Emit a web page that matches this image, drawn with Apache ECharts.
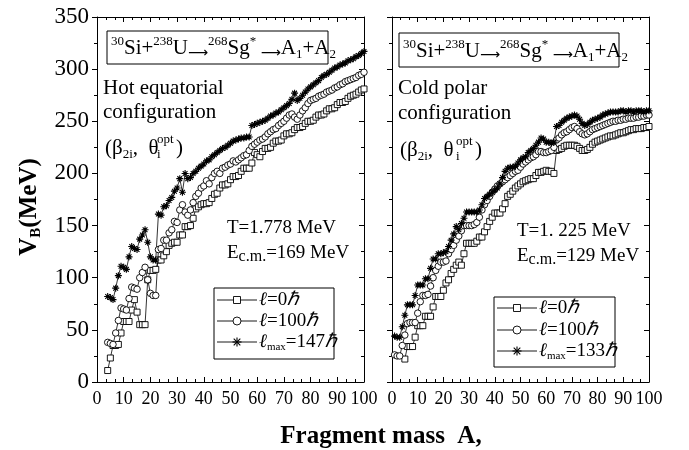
<!DOCTYPE html>
<html>
<head>
<meta charset="utf-8">
<script src="https://cdn.jsdelivr.net/npm/echarts@6/dist/echarts.min.js"></script>
<style>
  html, body { margin: 0; padding: 0; background: #fff; }
  #chart { width: 689px; height: 450px; }
</style>
</head>
<body>
<div id="chart"></div>
<script>
// Barrier heights V_B (MeV) versus fragment mass A for 30Si+238U -> 268Sg*

// Hot equatorial configuration, T = 1.778 MeV (A = 4 ... 100)
const hotStartMass = 4;
const hotL0 = [
  11, 23, 35, 35, 36, 47, 58, 58, 58, 69,
  79, 67, 55, 55, 55, 98, 107, 107, 108, 117,
  117, 121, 125, 131, 133, 134, 134, 141, 141, 149,
  149, 150, 157, 166, 168, 170, 171, 171, 172, 176,
  180, 181, 186, 189, 189, 190, 194, 197, 197, 198,
  202, 205, 205, 205, 210, 220, 218, 216, 221, 224,
  224, 225, 229, 231, 231, 232, 236, 238, 238, 239,
  242, 244, 244, 245, 248, 250, 250, 251, 254, 256,
  256, 257, 260, 262, 262, 263, 266, 268, 268, 269,
  272, 274, 275, 276, 278, 280, 281
];
const hotL100 = [
  38, 37, 36, 47, 59, 71, 70, 69, 80, 91,
  90, 89, 100, 105, 110, 98, 85, 83, 83, 127,
  128, 136, 136, 143, 146, 154, 153, 165, 170, 163,
  160, 165, 172, 178, 181, 186, 188, 193, 190, 196,
  200, 202, 200, 205, 206, 208, 209, 212, 211, 213,
  215, 217, 218, 222, 226, 228, 230, 232, 233, 235,
  238, 240, 242, 243, 246, 248, 250, 253, 256, 257,
  254, 252, 256, 260, 263, 267, 270, 271, 272, 274,
  275, 276, 278, 279, 280, 282, 283, 285, 286, 288,
  289, 290, 291, 292, 294, 295, 297
];
const hotLmax = [
  82, 81, 79, 90, 102, 111, 110, 108, 120, 130,
  128, 127, 137, 141, 146, 134, 120, 117, 117, 161,
  160, 168, 169, 174, 177, 183, 186, 195, 182, 200,
  195, 196, 200, 202, 205, 207, 209, 212, 213, 216,
  218, 220, 222, 224, 225, 227, 229, 231, 232, 233,
  234, 234, 235, 235, 246, 247, 248, 249, 250, 251,
  253, 255, 256, 258, 259, 261, 263, 265, 267, 271,
  277, 270, 272, 275, 278, 281, 283, 285, 287, 289,
  292, 294, 295, 297, 299, 301, 302, 304, 305, 306,
  308, 309, 310, 312, 313, 315, 317
];

// Cold polar configuration, T = 1.225 MeV
const coldStartMass = 1;      // l = 100 and l_max curves
const coldL0StartMass = 5;    // l = 0 curve
const coldL0 = [
  22, 34, 34, 34, 43, 54, 54, 54, 63, 63,
  63, 72, 82, 82, 82, 88, 95, 98, 104, 108,
  112, 115, 112, 123, 133, 133, 133, 133, 135, 139,
  139, 144, 149, 154, 158, 162, 162, 162, 166, 171,
  178, 180, 183, 186, 188, 190, 192, 193, 194, 195,
  195, 198, 201, 201, 202, 203, 202, 202, 200, 222,
  223, 224, 226, 227, 227, 227, 227, 226, 224, 222,
  222, 223, 225, 228, 230, 231, 232, 233, 234, 235,
  236, 236, 237, 238, 239, 239, 240, 241, 242, 242,
  243, 243, 243, 244, 244, 245
];
const coldL100 = [
  26, 25, 25, 35, 45, 56, 57, 57, 57, 66,
  77, 83, 83, 84, 92, 100, 107, 111, 115, 115,
  116, 123, 127, 131, 136, 140, 145, 150, 150, 150,
  150, 151, 153, 158, 165, 170, 174, 178, 182, 185,
  188, 190, 192, 194, 196, 198, 200, 202, 203, 206,
  209, 211, 213, 215, 216, 218, 221, 221, 220, 220,
  221, 222, 225, 232, 234, 237, 239, 240, 242, 244,
  245, 243, 240, 238, 237, 238, 240, 242, 243, 244,
  245, 246, 247, 248, 249, 250, 250, 251, 251, 252,
  252, 253, 253, 253, 254, 254, 255, 255, 256, 256
];
const coldLmax = [
  44, 43, 43, 53, 64, 74, 74, 74, 83, 93,
  93, 93, 99, 99, 109, 118, 118, 123, 123, 124,
  125, 130, 136, 142, 149, 146, 152, 157, 163, 163,
  163, 163, 163, 165, 170, 176, 178, 180, 182, 184,
  186, 190, 196, 202, 205, 206, 206, 207, 210, 213,
  215, 216, 220, 222, 224, 227, 230, 234, 233, 230,
  230, 229, 230, 245, 246, 249, 251, 253, 254, 255,
  256, 255, 252, 248, 246, 247, 249, 251, 252, 253,
  254, 256, 257, 258, 259, 259, 259, 259, 260, 260,
  259, 260, 260, 259, 260, 260, 260, 259, 260, 260
];

const xTicks = { min: 0, max: 100, interval: 10 };
const yTicks = { min: 0, max: 350, interval: 50 };

const hotNames = ['ℓ=0ℏ', 'ℓ=100ℏ', 'ℓmax=147ℏ'];
const coldNames = ['ℓ=0ℏ', 'ℓ=100ℏ', 'ℓmax=133ℏ'];

function pairs(start, values) {
  return values.map((v, i) => [start + i, v]);
}

const SERIF = 'Liberation Serif';
const STAR = 'path://M5 0L5 10M0 5L10 5M1.6 1.6L8.4 8.4M1.6 8.4L8.4 1.6';

function xAxis(gridIndex, position, showLabels) {
  return {
    type: 'value', gridIndex, position,
    min: xTicks.min, max: xTicks.max, interval: xTicks.interval,
    axisLine: { show: true, onZero: false, lineStyle: { color: '#000', width: 1 } },
    axisTick: { show: true, inside: true, length: 5, lineStyle: { color: '#000', width: 1 } },
    minorTick: { show: true, splitNumber: 3, length: 3, lineStyle: { color: '#000', width: 1 } },
    splitLine: { show: false },
    axisLabel: {
      show: showLabels, color: '#000', fontFamily: SERIF, fontSize: 18, margin: 8,
      showMinLabel: true, showMaxLabel: true
    }
  };
}

function yAxis(gridIndex, position, inside, showLabels) {
  return {
    type: 'value', gridIndex, position,
    min: yTicks.min, max: yTicks.max, interval: yTicks.interval,
    axisLine: { show: true, onZero: false, lineStyle: { color: '#000', width: 1 } },
    axisTick: { show: true, inside, length: 5, lineStyle: { color: '#000', width: 1 } },
    minorTick: { show: true, splitNumber: 2, length: 3, lineStyle: { color: '#000', width: 1 } },
    splitLine: { show: false },
    axisLabel: {
      show: showLabels, color: '#000', fontFamily: SERIF, fontSize: 23, margin: 8,
      showMinLabel: true, showMaxLabel: true
    }
  };
}

function curve(name, xi, yi, data, kind) {
  const s = {
    name, type: 'line', xAxisIndex: xi, yAxisIndex: yi, data,
    showAllSymbol: true, silent: true,
    lineStyle: { color: '#000', width: 0.8 },
    itemStyle: { color: '#fff', borderColor: '#000', borderWidth: 0.9 }
  };
  if (kind === 'square') { s.symbol = 'rect'; s.symbolSize = 6; }
  if (kind === 'circle') { s.symbol = 'circle'; s.symbolSize = 6.5; }
  if (kind === 'star') {
    s.symbol = STAR; s.symbolSize = 7;
    s.itemStyle = { color: '#000', borderColor: '#000', borderWidth: 1.1 };
  }
  return s;
}

function text(x, y, str, size, rich) {
  return {
    type: 'text', x, y, silent: true,
    style: {
      text: str, fill: '#000', fontFamily: SERIF, fontSize: size,
      align: 'left', verticalAlign: 'middle', rich: rich || {}
    }
  };
}

// legend box drawn with plain shapes: sample line, marker and label per row
const legendRich = {
  i: { fontFamily: SERIF, fontStyle: 'italic', fontSize: 19 },
  n: { fontFamily: SERIF, fontSize: 19 },
  s: { fontFamily: SERIF, fontSize: 11, lineHeight: 11, padding: [10, 0, 0, 0] }
};
function legendLabel(name) {
  const m = name.match(/^ℓ(max)?=(\d+)ℏ$/);
  return '{i|ℓ}' + (m[1] ? '{s|max}' : '') + '{n|=' + m[2] + '}{i|ℏ}';
}
function legendBox(x, y, w, h, rowYs, names) {
  const els = [{ type: 'rect', silent: true, shape: { x, y, width: w, height: h },
    style: { fill: '#fff', stroke: '#000', lineWidth: 1 } }];
  const lx0 = x + 3, lx1 = x + 43, mx = x + 23;
  rowYs.forEach((ry, k) => {
    els.push({ type: 'line', silent: true, shape: { x1: lx0, y1: ry, x2: lx1, y2: ry },
      style: { stroke: '#000', lineWidth: 0.9 } });
    if (k === 0) {
      els.push({ type: 'rect', silent: true, shape: { x: mx - 3.5, y: ry - 3.5, width: 7, height: 7 },
        style: { fill: '#fff', stroke: '#000', lineWidth: 0.9 } });
    } else if (k === 1) {
      els.push({ type: 'circle', silent: true, shape: { cx: mx, cy: ry, r: 4 },
        style: { fill: '#fff', stroke: '#000', lineWidth: 0.9 } });
    } else {
      [[0, -4.5, 0, 4.5], [-4.5, 0, 4.5, 0], [-3.3, -3.3, 3.3, 3.3], [-3.3, 3.3, 3.3, -3.3]].forEach(d => {
        els.push({ type: 'line', silent: true,
          shape: { x1: mx + d[0], y1: ry + d[1], x2: mx + d[2], y2: ry + d[3] },
          style: { stroke: '#000', lineWidth: 1.1 } });
      });
    }
    els.push(text(x + 45, ry, legendLabel(names[k]), 19, legendRich));
  });
  return els;
}

// rich text styles for the formula and annotations
const eqRich = {
  n: { fontFamily: SERIF, fontSize: 21, lineHeight: 24 },
  sp: { fontFamily: SERIF, fontSize: 13, lineHeight: 13, padding: [0, 0, 13, 0] },
  sb: { fontFamily: SERIF, fontSize: 13, lineHeight: 13, padding: [13, 0, 0, 0] },
  ar: { fontFamily: 'DejaVu Sans', fontSize: 14, lineHeight: 14, padding: [9, 0, 0, 0] }
};
const formula = '{sp|30}{n|Si+}{sp|238}{n|U}{ar|⟶}{sp|268}{n|Sg}{sp|*}{ar| ⟶}{n|A}{sb|1}{n|+A}{sb|2}';

const annRich = {
  n: { fontFamily: SERIF, fontSize: 21 },
  sb: { fontFamily: SERIF, fontSize: 13, lineHeight: 13, padding: [14, 0, 0, 0] }
};
const energyRich = {
  n: { fontFamily: SERIF, fontSize: 19 },
  sbE: { fontFamily: SERIF, fontSize: 16, lineHeight: 16, padding: [8, 0, 0, 0] }
};

function panelNotes(p) {
  return [
    { type: 'rect', silent: true, shape: { x: p.box[0], y: p.box[1], width: p.box[2], height: p.box[3] },
      style: { fill: '#fff', stroke: '#000', lineWidth: 1 } },
    text(p.box[0] + 4, p.box[1] + p.box[3] / 2 + 1, formula, 21, eqRich),
    text(p.tx, p.ty[0], p.title[0], 21),
    text(p.tx, p.ty[1], p.title[1], 21),
    text(p.bx, p.ty[2], '{n|(β}{sb|2i}{n|,  θ}', 21, annRich),
    text(p.bx + p.theta, p.ty[2] + 7, 'i', 13),
    text(p.bx + p.theta, p.ty[2] - 8, 'opt', 13),
    text(p.bx + p.theta + 19, p.ty[2], ')', 21),
    text(p.ex, p.ey[0], p.temp, 19),
    text(p.ex, p.ey[1], '{n|E}{sbE|c.m.}{n|=' + p.ecm + '}', 19, energyRich)
  ];
}

const titleRich = {
  v: { fontFamily: SERIF, fontWeight: 'bold', fontSize: 25 },
  b: { fontFamily: SERIF, fontWeight: 'bold', fontSize: 15, lineHeight: 15, padding: [12, 0, 0, 0] },
  m: { fontFamily: SERIF, fontWeight: 'bold', fontSize: 25 }
};

const graphics = [].concat(
  panelNotes({
    box: [107, 31, 221, 33], tx: 103, ty: [88, 112, 148], title: ['Hot equatorial', 'configuration'],
    bx: 105, theta: 52, ex: 227, ey: [228, 253], temp: 'T=1.778 MeV', ecm: '169 MeV'
  }),
  panelNotes({
    box: [399, 33, 220, 34], tx: 398, ty: [88, 113, 150], title: ['Cold polar', 'configuration'],
    bx: 400, theta: 56, ex: 517, ey: [231, 256], temp: 'T=1. 225 MeV', ecm: '129 MeV'
  }),
  legendBox(214, 288, 120, 71, [300, 321, 342], hotNames),
  legendBox(494, 297, 121, 70, [308, 330, 351], coldNames),
  [
    // vertical axis title
    { type: 'text', x: 30, y: 207, rotation: Math.PI / 2, silent: true,
      style: { text: '{v|V}{b|B}{m|(MeV)}', fill: '#000', align: 'center', verticalAlign: 'middle', rich: titleRich } },
    // horizontal axis title
    { type: 'text', x: 381, y: 437, silent: true,
      style: { text: 'Fragment mass  A,', fill: '#000', fontFamily: SERIF, fontWeight: 'bold',
        fontSize: 25, align: 'center', verticalAlign: 'middle' } }
  ]
);

const option = {
  animation: false,
  backgroundColor: '#fff',
  grid: [
    { left: 97, top: 17, width: 267, height: 365 },
    { left: 392, top: 17, width: 257, height: 365 }
  ],
  xAxis: [
    xAxis(0, 'bottom', true), xAxis(0, 'top', false),
    xAxis(1, 'bottom', true), xAxis(1, 'top', false)
  ],
  yAxis: [
    yAxis(0, 'left', false, true), yAxis(0, 'right', true, false),
    yAxis(1, 'left', false, false), yAxis(1, 'right', true, false)
  ],
  series: [
    curve(hotNames[0], 0, 0, pairs(hotStartMass, hotL0), 'square'),
    curve(hotNames[1], 0, 0, pairs(hotStartMass, hotL100), 'circle'),
    curve(hotNames[2], 0, 0, pairs(hotStartMass, hotLmax), 'star'),
    curve(coldNames[0], 2, 2, pairs(coldL0StartMass, coldL0), 'square'),
    curve(coldNames[1], 2, 2, pairs(coldStartMass, coldL100), 'circle'),
    curve(coldNames[2], 2, 2, pairs(coldStartMass, coldLmax), 'star')
  ],
  graphic: graphics
};

const chart = echarts.init(document.getElementById('chart'), null, { renderer: 'canvas' });
chart.setOption(option);
</script>
</body>
</html>
